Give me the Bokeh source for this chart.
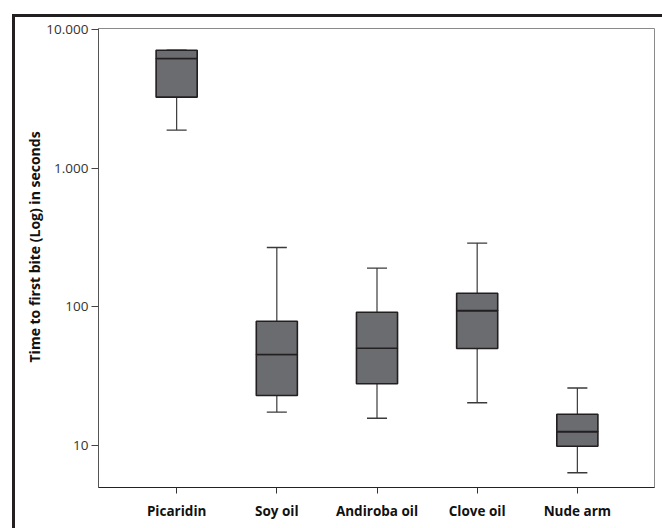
from bokeh.plotting import figure
from bokeh.models import FixedTicker, Range1d, Title
from bokeh.embed import file_html
from bokeh.resources import INLINE

categories = ["Picaridin", "Soy oil", "Andiroba oil", "Clove oil", "Nude arm"]
whisker_low = [1890, 17.3, 15.6, 20.2, 6.3]
q1 = [3270, 22.8, 27.7, 49.9, 9.8]
median = [6220, 45.1, 50.1, 93.7, 12.5]
q3 = [7140, 78.5, 91.2, 125, 16.7]
whisker_high = [7140, 268, 190, 288, 25.8]

y_ticks = [10, 100, 1000, 10000]
y_tick_labels = ["10", "100", "1.000", "10.000"]
y_title = "Time to first bite (Log) in seconds"

xs = list(range(1, len(categories) + 1))
box_w = 0.41
cap_half = 0.1

p = figure(width=662, height=528, y_axis_type="log",
           x_range=Range1d(0.22, 5.77), y_range=Range1d(4.93, 10250),
           output_backend="svg", toolbar_location=None,
           min_border_left=98, min_border_top=28, min_border_right=8, min_border_bottom=41)

p.border_fill_color = None
p.background_fill_color = "white"
p.outline_line_color = "#8a8a8a"
p.outline_line_width = 1
p.styles = {"box-shadow": "inset 12px 14px 0 0 #ffffff, inset 15px 17px 0 0 #231f20"}
p.grid.visible = False

# x axis
p.xaxis.ticker = FixedTicker(ticks=xs)
p.xaxis.major_label_overrides = {x: c for x, c in zip(xs, categories)}
p.xaxis.major_label_text_font = "Open Sans"
p.xaxis.major_label_text_font_style = "bold"
p.xaxis.major_label_text_font_size = "13.5px"
p.xaxis.major_label_text_color = "#111111"
p.xaxis.major_label_standoff = 8
p.xaxis.major_tick_out = 6
p.xaxis.major_tick_in = 0
p.xaxis.minor_tick_line_color = None
p.xaxis.axis_line_color = "#222222"
p.xaxis.major_tick_line_color = "#333333"

# y axis
p.yaxis.ticker = FixedTicker(ticks=y_ticks)
p.yaxis.major_label_overrides = {t: l for t, l in zip(y_ticks, y_tick_labels)}
p.yaxis.major_label_text_font = "Open Sans"
p.yaxis.major_label_text_font_size = "13.5px"
p.yaxis.major_label_text_color = "#333333"
p.yaxis.major_label_standoff = 3
p.yaxis.major_tick_out = 7
p.yaxis.major_tick_in = 0
p.yaxis.minor_tick_line_color = None
p.yaxis.axis_line_color = "#555555"
p.yaxis.major_tick_line_color = "#444444"

line_c = "#3a3a3a"
# whiskers
p.segment(x0=xs, y0=q3, x1=xs, y1=whisker_high, line_color=line_c, line_width=1.2)
p.segment(x0=xs, y0=whisker_low, x1=xs, y1=q1, line_color=line_c, line_width=1.2)
p.segment(x0=[x - cap_half for x in xs], y0=whisker_high, x1=[x + cap_half for x in xs], y1=whisker_high,
          line_color=line_c, line_width=1.4)
p.segment(x0=[x - cap_half for x in xs], y0=whisker_low, x1=[x + cap_half for x in xs], y1=whisker_low,
          line_color=line_c, line_width=1.4)

# boxes
box_fill = "#6b6c70"
box_line = "#231f20"
p.vbar(x=xs, width=box_w, bottom=q1, top=median, fill_color=box_fill, line_color=box_line, line_width=1.6)
p.vbar(x=xs, width=box_w, bottom=median, top=q3, fill_color=box_fill, line_color=box_line, line_width=1.6)

# y title
ttl = Title(text=y_title, align="left", offset=125, standoff=0,
            text_font="Open Sans", text_font_style="bold", text_font_size="14px",
            text_color="#111111")
p.add_layout(ttl, "left")

open("out.html", "w").write(file_html(p, INLINE))
